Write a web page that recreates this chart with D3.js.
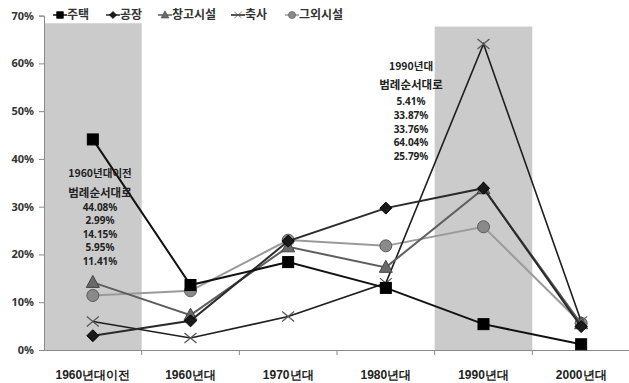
<!DOCTYPE html>
<html>
<head>
<meta charset="utf-8">
<script src="https://cdn.jsdelivr.net/npm/d3@7"></script>
<style>
  html, body { margin: 0; padding: 0; background: #fff; }
  svg { display: block; font-family: "Noto Sans CJK KR", "Noto Sans", sans-serif; }
</style>
</head>
<body>
<svg id="chart" width="629" height="383"></svg>
<script>
// Decade categories on the x axis
const categories = ["1960년대이전", "1960년대", "1970년대", "1980년대", "1990년대", "2000년대"];

// Share of buildings (%) by use, per decade
const housing   = [44.08, 13.6, 18.4, 13.0, 5.41, 1.2];   // 주택
const factory   = [2.99, 6.1, 22.8, 29.7, 33.87, 4.9];    // 공장
const warehouse = [14.15, 7.3, 21.6, 17.3, 33.76, 5.5];   // 창고시설
const barn      = [5.95, 2.5, 7.0, 14.0, 64.04, 6.0];     // 축사
const others    = [11.41, 12.4, 23.0, 21.8, 25.79, 5.6];  // 그외시설

const seriesNames = ["주택", "공장", "창고시설", "축사", "그외시설"];

// Highlighted decades (shaded columns) and the height they reach
const highlightCats = ["1960년대이전", "1990년대"];
const highlightTop  = [68.4, 67.7];

// Y axis ticks
const yTicks = [0, 10, 20, 30, 40, 50, 60, 70];

// Annotation texts
const noteTitles = ["1960년대이전", "1990년대"];
const noteSub = "범례순서대로";

const W = 629, H = 383;
const margin = { left: 44, right: 0, top: 16, bottom: 33 };
const svg = d3.select("#chart");

const x = d3.scaleBand().domain(categories).range([44, 630]).padding(0);
const y = d3.scaleLinear().domain([0, 70]).range([350, 15.6]);
const cx = c => x(c) + x.bandwidth() / 2;

// shaded columns
svg.append("g").selectAll("rect")
  .data(highlightCats)
  .join("rect")
  .attr("x", d => x(d))
  .attr("width", x.bandwidth())
  .attr("y", (d, i) => y(highlightTop[i]))
  .attr("height", (d, i) => y(0) - y(highlightTop[i]))
  .attr("fill", "#cbcbcb");

// y axis
const yAxis = svg.append("g")
  .attr("transform", "translate(44,0)")
  .call(d3.axisLeft(y).tickValues(yTicks).tickFormat(d => d + "%").tickSize(5).tickPadding(5));
yAxis.select(".domain").attr("stroke", "#8a8a8a");
yAxis.selectAll(".tick line").attr("stroke", "#8a8a8a");
yAxis.selectAll(".tick text")
  .attr("font-size", 11).attr("font-weight", "bold").attr("fill", "#333")
  .attr("font-family", "'Noto Sans', sans-serif");

// x axis
const xAxis = svg.append("g")
  .attr("transform", "translate(0,350)")
  .call(d3.axisBottom(x).tickSize(0).tickPadding(20));
xAxis.select(".domain").attr("stroke", "#8a8a8a");
xAxis.selectAll(".tick text")
  .attr("font-size", 12).attr("font-weight", "bold").attr("fill", "#222");
// boundary ticks between categories
svg.append("g").selectAll("line")
  .data(categories.slice(1))
  .join("line")
  .attr("x1", d => x(d)).attr("x2", d => x(d))
  .attr("y1", 350).attr("y2", 355)
  .attr("stroke", "#8a8a8a");

// series styles
const series = [
  { name: seriesNames[0], values: housing,   line: "#111", width: 2,   marker: "square",   fill: "#000", stroke: "#000" },
  { name: seriesNames[1], values: factory,   line: "#2a2a2a", width: 2, marker: "diamond", fill: "#1a1a1a", stroke: "#000" },
  { name: seriesNames[2], values: warehouse, line: "#5e5e5e", width: 2, marker: "triangle", fill: "#6a6a6a", stroke: "#444" },
  { name: seriesNames[3], values: barn,      line: "#1e1e1e", width: 1.6, marker: "cross",  fill: "none", stroke: "#555" },
  { name: seriesNames[4], values: others,    line: "#9a9a9a", width: 2, marker: "circle",   fill: "#8a8a8a", stroke: "#5a5a5a" }
];

function drawMarker(g, type, px, py, s) {
  const f = s.fill, st = s.stroke;
  if (type === "square") {
    g.append("rect").attr("x", px - 5.5).attr("y", py - 5.5).attr("width", 11).attr("height", 11)
      .attr("fill", f).attr("stroke", st);
  } else if (type === "diamond") {
    g.append("path").attr("d", `M${px},${py - 6}L${px + 6},${py}L${px},${py + 6}L${px - 6},${py}Z`)
      .attr("fill", f).attr("stroke", st);
  } else if (type === "triangle") {
    g.append("path").attr("d", `M${px},${py - 7}L${px + 6.5},${py + 5}L${px - 6.5},${py + 5}Z`)
      .attr("fill", f).attr("stroke", st);
  } else if (type === "cross") {
    g.append("path").attr("d", `M${px - 6},${py - 5}L${px + 6},${py + 5}M${px - 6},${py + 5}L${px + 6},${py - 5}`)
      .attr("stroke", st).attr("stroke-width", 1.2).attr("fill", "none");
  } else if (type === "circle") {
    g.append("circle").attr("cx", px).attr("cy", py).attr("r", 6)
      .attr("fill", f).attr("stroke", st);
  }
}

const line = d3.line().x((d, i) => cx(categories[i])).y(d => y(d));

// draw bottom-to-top so 주택 ends on top
const plotG = svg.append("g");
series.slice().reverse().forEach(s => {
  const g = plotG.append("g");
  g.append("path").datum(s.values).attr("d", line)
    .attr("fill", "none").attr("stroke", s.line).attr("stroke-width", s.width);
  s.values.forEach((v, i) => drawMarker(g, s.marker, cx(categories[i]), y(v), s));
});

// legend
const legendX = [53, 106, 158, 231, 285];
const legend = svg.append("g");
series.forEach((s, i) => {
  const g = legend.append("g");
  const lx = legendX[i], ly = 15;
  g.append("line").attr("x1", lx).attr("x2", lx + 14).attr("y1", ly).attr("y2", ly)
    .attr("stroke", s.line).attr("stroke-width", 1.5);
  const ms = Object.assign({}, s);
  const mg = g.append("g").attr("transform", `translate(${lx + 7},${ly}) scale(0.6) translate(${-(lx + 7)},${-ly})`);
  drawMarker(mg, s.marker, lx + 7, ly, ms);
  g.append("text").attr("x", lx + 14).attr("y", ly).attr("dy", "0.36em")
    .attr("font-size", 12).attr("font-weight", "bold").attr("fill", "#333")
    .text(s.name);
});

// annotations listing values in legend order
function note(title, centerX, ys, idx) {
  const g = svg.append("g").attr("text-anchor", "middle").attr("fill", "#222");
  g.append("text").attr("x", centerX).attr("y", ys[0]).attr("dy", "0.36em")
    .attr("font-size", 10.5).attr("font-weight", "bold").text(title);
  g.append("text").attr("x", centerX).attr("y", ys[1]).attr("dy", "0.36em")
    .attr("font-size", 11.5).attr("font-weight", "bold").text(noteSub);
  series.forEach((s, k) => {
    g.append("text").attr("x", centerX).attr("y", ys[2] + k * 13.6).attr("dy", "0.36em")
      .attr("font-size", 10).attr("font-weight", "bold")
      .attr("font-family", "'Noto Sans', sans-serif")
      .text(d3.format(".2f")(s.values[idx]) + "%");
  });
}
note(noteTitles[0], 100, [173, 192.5, 207], 0);
note(noteTitles[1], 411, [66.5, 85, 101.7], 4);
</script>
</body>
</html>
